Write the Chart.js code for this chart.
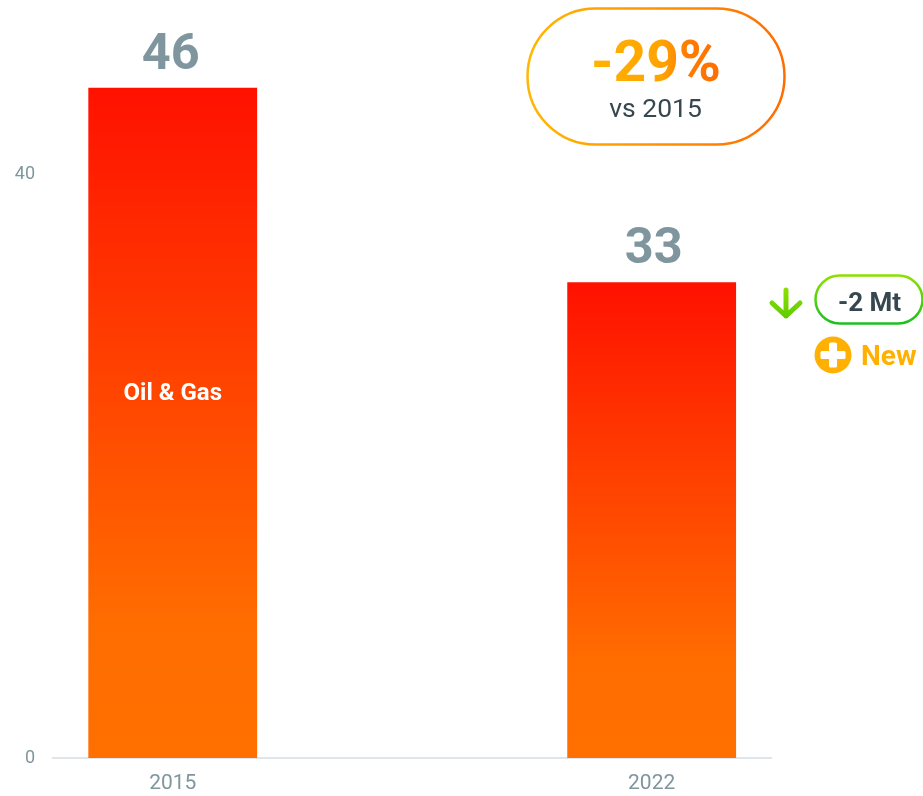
<!DOCTYPE html>
<html><head><meta charset="utf-8">
<style>html,body{margin:0;padding:0;background:#fff}#w{position:relative;width:923px;height:796px}canvas{display:block}</style>
<script src="https://cdn.jsdelivr.net/npm/chart.js@4"></script></head>
<body><div id="w"><canvas id="c" width="923" height="796"></canvas></div>
<script>
const categories = ['2015', '', '2022'];
const oilGas = [45.95, null, 32.62];
const valueLabels = ['46', '', '33'];
const seriesName = 'Oil & Gas';
const yTicks = [0, 40];
const F = 'Roboto, sans-serif';
const GREY = '#7f969f';

function rr(ctx, x, y, w, h, r) { ctx.beginPath(); ctx.roundRect(x, y, w, h, r); }
function lin(ctx, x0, y0, x1, y1, a, b) { const g = ctx.createLinearGradient(x0, y0, x1, y1); g.addColorStop(0, a); g.addColorStop(1, b); return g; }

const overlay = {
  id: 'overlay',
  afterDatasetsDraw(chart) {
    const ctx = chart.ctx, meta = chart.getDatasetMeta(0);
    ctx.save();
    ctx.textAlign = 'center'; ctx.textBaseline = 'alphabetic';
    // value labels
    ctx.font = '700 50.5px ' + F; ctx.fillStyle = GREY;
    const nudge = [-2, 0, 2];
    meta.data.forEach((el, i) => { if (oilGas[i] != null) ctx.fillText(valueLabels[i], el.x + nudge[i], el.y - 19); });
    // segment label
    ctx.font = '700 24px ' + F; ctx.fillStyle = '#ffffff';
    ctx.fillText(seriesName, meta.data[0].x, 400);
    // headline pill
    ctx.lineWidth = 2.5;
    ctx.strokeStyle = lin(ctx, 527, 0, 785, 0, '#ffb800', '#ff6d00');
    rr(ctx, 527.5, 8.5, 257, 136, 68); ctx.stroke();
    ctx.font = '700 57px ' + F;
    const tg = ctx.createLinearGradient(592, 0, 720, 0);
    tg.addColorStop(0, '#ffb300'); tg.addColorStop(0.55, '#ffa300'); tg.addColorStop(0.72, '#ff7f00'); tg.addColorStop(1, '#ff6d00');
    ctx.fillStyle = tg;
    ctx.fillText('-29%', 656, 81);
    ctx.font = '400 26.5px ' + F; ctx.fillStyle = '#37474f';
    ctx.fillText('vs 2015', 655.5, 117);
    // delta pill
    ctx.strokeStyle = lin(ctx, 0, 275, 0, 323, '#90e000', '#1cc020');
    rr(ctx, 815.5, 275.5, 107, 48, 24); ctx.stroke();
    ctx.font = '700 26px ' + F; ctx.fillStyle = '#37474f';
    ctx.fillText('-2 Mt', 869.5, 311);
    // arrow
    ctx.strokeStyle = lin(ctx, 0, 287, 0, 318, '#8fe000', '#5fcc00');
    ctx.lineWidth = 5; ctx.lineCap = 'round'; ctx.lineJoin = 'round';
    ctx.beginPath(); ctx.moveTo(786, 290); ctx.lineTo(786, 316);
    ctx.moveTo(772, 303); ctx.lineTo(786, 316); ctx.lineTo(800, 303); ctx.stroke();
    // new badge
    ctx.fillStyle = '#ffb000';
    ctx.beginPath(); ctx.arc(833, 355, 18.5, 0, Math.PI * 2); ctx.fill();
    ctx.fillStyle = '#ffffff';
    rr(ctx, 829, 342.5, 8, 25, 1.5); ctx.fill();
    rr(ctx, 820.5, 351, 25, 8, 1.5); ctx.fill();
    ctx.textAlign = 'left'; ctx.font = '700 28px ' + F; ctx.fillStyle = '#ffb000';
    ctx.fillText('New', 861, 364.5);
    ctx.restore();
  }
};

new Chart(document.getElementById('c'), {
  type: 'bar',
  data: {
    labels: categories,
    datasets: [{
      label: seriesName,
      data: oilGas,
      barPercentage: 0.705,
      categoryPercentage: 1,
      backgroundColor(c) {
        const a = c.chart.chartArea;
        if (!a) return '#ff6d00';
        const top = c.chart.scales.y.getPixelForValue(oilGas[c.dataIndex] ?? 0);
        const bottom = c.chart.scales.y.getPixelForValue(0);
        const g = c.chart.ctx.createLinearGradient(0, top, 0, bottom);
        g.addColorStop(0, '#ff1100');
        g.addColorStop(0.8, '#ff6d00');
        g.addColorStop(1, '#ff7000');
        return g;
      }
    }]
  },
  plugins: [overlay],
  options: {
    responsive: false,
    animation: false,
    layout: { padding: { left: 0, right: 151.6, top: 25.5, bottom: 0 } },
    plugins: { legend: { display: false }, tooltip: { enabled: false } },
    scales: {
      x: {
        grid: { display: false, drawTicks: false },
        border: { color: '#dfe5e8', width: 2 },
        ticks: { color: GREY, font: { family: F, size: 21 }, padding: 13, maxRotation: 0 },
        afterFit(s) { s.height = 38; }
      },
      y: {
        min: 0, max: 50,
        afterBuildTicks(s) { s.ticks = yTicks.map(v => ({ value: v })); },
        grid: { display: false, drawTicks: false },
        border: { display: false },
        ticks: { color: GREY, font: { family: F, size: 18 }, padding: 18 },
        afterFit(s) { s.width = 53; }
      }
    }
  }
});
</script></body></html>
